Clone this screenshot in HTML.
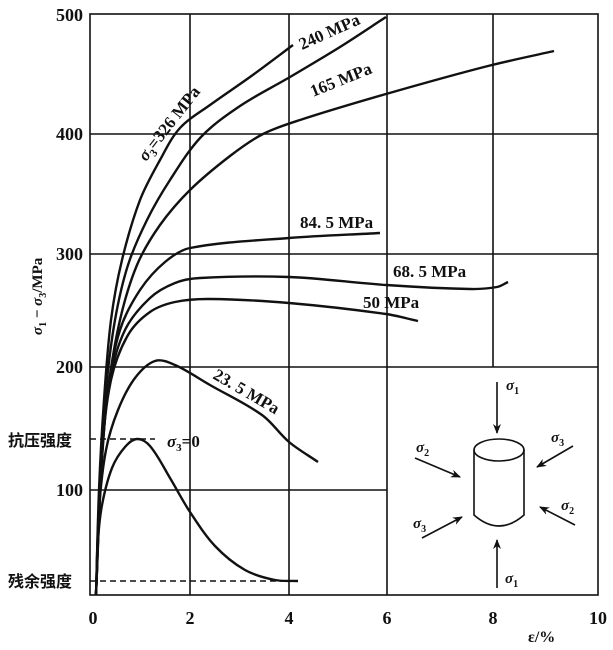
<!DOCTYPE html>
<html><head><meta charset="utf-8"><style>
html,body{margin:0;padding:0;background:#fff}
svg{display:block}
text{font-family:"Liberation Serif","Noto Serif CJK SC",serif;font-weight:bold;fill:#111}
.c{font-family:"Liberation Sans","Noto Sans CJK SC",sans-serif}
</style></head><body>
<svg id="s" width="613" height="650" viewBox="0 0 613 650" xmlns="http://www.w3.org/2000/svg">
<defs><marker id="a" markerWidth="10" markerHeight="8" refX="9" refY="4" orient="auto" markerUnits="userSpaceOnUse"><path d="M0,0 L10,4 L0,8 L3,4Z" fill="#111"/></marker></defs>
<g stroke="#111" stroke-width="1.6" fill="none">
<rect x="90" y="14" width="508" height="581"/>
<line x1="190" y1="14" x2="190" y2="595"/>
<line x1="289" y1="14" x2="289" y2="595"/>
<line x1="387" y1="14" x2="387" y2="595"/>
<line x1="493" y1="14" x2="493" y2="367"/>
<line x1="90" y1="134" x2="598" y2="134"/>
<line x1="90" y1="254" x2="598" y2="254"/>
<line x1="90" y1="367" x2="598" y2="367"/>
<line x1="90" y1="490" x2="387" y2="490"/>
<line x1="90" y1="439" x2="155" y2="439" stroke-dasharray="6,4"/>
<line x1="90" y1="581" x2="298" y2="581" stroke-dasharray="6,4"/>
</g>
<g id="curves" stroke="#111" stroke-width="2.4" fill="none"></g>
<g font-size="18">
<text x="83" y="21" text-anchor="end">500</text>
<text x="83" y="140" text-anchor="end">400</text>
<text x="83" y="260" text-anchor="end">300</text>
<text x="83" y="373" text-anchor="end">200</text>
<text x="83" y="496" text-anchor="end">100</text>
<text x="93" y="624" text-anchor="middle">0</text>
<text x="190" y="624" text-anchor="middle">2</text>
<text x="289" y="624" text-anchor="middle">4</text>
<text x="387" y="624" text-anchor="middle">6</text>
<text x="493" y="624" text-anchor="middle">8</text>
<text x="598" y="624" text-anchor="middle">10</text>
</g>
<text x="528" y="642" font-size="16">ε/%</text>
<text class="c" x="8" y="446" font-size="16">抗压强度</text>
<text class="c" x="8" y="587" font-size="16">残余强度</text>
<text x="0" y="0" font-size="15" transform="translate(42,335) rotate(-90)"><tspan font-style="italic">σ</tspan><tspan font-size="10" dy="4">1</tspan><tspan dy="-4"> − </tspan><tspan font-style="italic">σ</tspan><tspan font-size="10" dy="4">3</tspan><tspan dy="-4">/MPa</tspan></text>
<g font-size="17">
<text transform="translate(146,162) rotate(-52)"><tspan font-style="italic">σ</tspan><tspan font-size="11" dy="4">3</tspan><tspan dy="-4">=326  MPa</tspan></text>
<text transform="translate(302,50) rotate(-24)">240  MPa</text>
<text transform="translate(313,97) rotate(-22)">165  MPa</text>
<text x="300" y="228">84. 5  MPa</text>
<text x="393" y="277">68. 5  MPa</text>
<text x="363" y="308">50  MPa</text>
<text transform="translate(212,378) rotate(30)">23. 5  MPa</text>
<text x="167" y="447"><tspan font-style="italic">σ</tspan><tspan font-size="11" dy="4">3</tspan><tspan dy="-4">=0</tspan></text>
</g>
<g stroke="#111" stroke-width="1.6" fill="none">
<line x1="497" y1="382" x2="497" y2="433" marker-end="url(#a)"/>
<line x1="497" y1="588" x2="497" y2="540" marker-end="url(#a)"/>
<line x1="415" y1="458" x2="460" y2="477" marker-end="url(#a)"/>
<line x1="573" y1="446" x2="537" y2="467" marker-end="url(#a)"/>
<line x1="575" y1="525" x2="540" y2="507" marker-end="url(#a)"/>
<line x1="422" y1="538" x2="462" y2="517" marker-end="url(#a)"/>
<ellipse cx="499" cy="450" rx="25" ry="11"/>
<path d="M474,450 L474,515 Q499,537 524,515 L524,450"/>
</g>
<g font-size="15">
<text x="506" y="390" font-style="italic">σ<tspan font-size="10" dy="4" font-style="normal">1</tspan></text>
<text x="505" y="583" font-style="italic">σ<tspan font-size="10" dy="4" font-style="normal">1</tspan></text>
<text x="416" y="452" font-style="italic">σ<tspan font-size="10" dy="4" font-style="normal">2</tspan></text>
<text x="551" y="442" font-style="italic">σ<tspan font-size="10" dy="4" font-style="normal">3</tspan></text>
<text x="561" y="510" font-style="italic">σ<tspan font-size="10" dy="4" font-style="normal">2</tspan></text>
<text x="413" y="528" font-style="italic">σ<tspan font-size="10" dy="4" font-style="normal">3</tspan></text>
</g>
</svg>
<script>
var C=[
[[96,595],[99,490],[104,400],[111,320],[122,260],[140,200],[160,160],[180,128],[210,105],[250,77],[293,45]],
[[96,595],[100,480],[106,390],[115,320],[128,265],[147,220],[170,180],[201,137],[240,106],[290,77],[340,47],[386,17]],
[[96,595],[101,470],[108,390],[120,320],[137,265],[160,225],[190,190],[230,156],[263,134],[300,120],[386,94],[488,66],[554,51]],
[[96,595],[101,470],[108,390],[120,330],[140,290],[165,262],[190,248],[289,238],[380,233]],
[[96,595],[102,460],[110,380],[125,330],[150,298],[175,283],[200,278],[289,277],[386,285],[470,289],[497,287],[508,282]],
[[96,595],[102,455],[111,380],[128,335],[150,312],[175,302],[210,299],[289,303],[386,314],[418,321]],
[[96,595],[99,510],[106,450],[118,410],[135,378],[155,361],[175,365],[210,385],[262,415],[289,442],[318,462]],
[[96,595],[98,540],[102,505],[112,468],[125,447],[137,439],[150,446],[170,478],[190,512],[215,546],[245,570],[275,580],[298,581]]
];
function dist(a,b){return Math.hypot(a[0]-b[0],a[1]-b[1]);}
var g=document.getElementById('curves');
C.forEach(function(p){
var n=p.length,T=[];
for(var i=0;i<n;i++){
var a=p[Math.max(i-1,0)],b=p[Math.min(i+1,n-1)];
var L=dist(a,b)||1;T.push([(b[0]-a[0])/L,(b[1]-a[1])/L]);}
var d='M'+p[0][0]+','+p[0][1];
for(var i=0;i<n-1;i++){
var s=dist(p[i],p[i+1])/3;
var c1=[p[i][0]+T[i][0]*s,p[i][1]+T[i][1]*s];
var c2=[p[i+1][0]-T[i+1][0]*s,p[i+1][1]-T[i+1][1]*s];
d+=' C'+c1[0].toFixed(1)+','+c1[1].toFixed(1)+' '+c2[0].toFixed(1)+','+c2[1].toFixed(1)+' '+p[i+1][0]+','+p[i+1][1];
}
var e=document.createElementNS('http://www.w3.org/2000/svg','path');
e.setAttribute('d',d);g.appendChild(e);
});
</script>
</body></html>
